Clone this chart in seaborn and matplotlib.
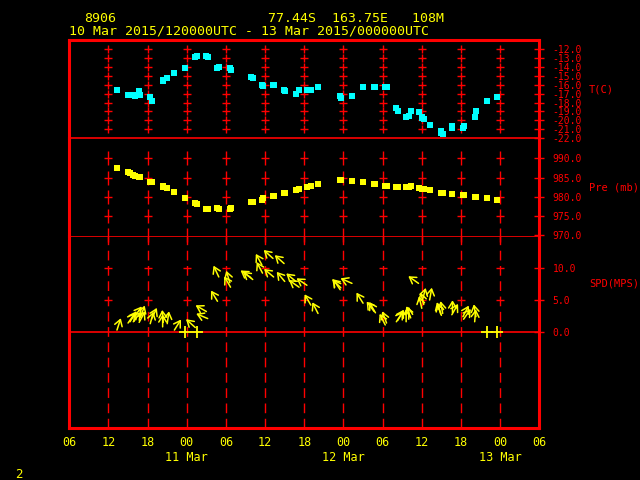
## GrADS-style station time series: T, pressure and wind arrows
import numpy as np
import matplotlib
matplotlib.use('Agg')
import matplotlib.pyplot as plt
import matplotlib.transforms as mtransforms
import seaborn as sns
from matplotlib.ticker import FormatStrFormatter

# observation times, hours after 10 Mar 2015 00 UTC
obs_hour = [13.3, 15.0, 15.3, 15.8, 16.0, 16.7, 16.9, 18.4, 18.6, 20.3, 20.4, 21.0,
            22.1, 23.7, 25.3, 25.5, 27.0, 27.2, 28.7, 28.9, 30.6, 30.7, 33.8, 34.1,
            35.5, 35.6, 37.2, 37.3, 38.9, 39.0, 40.7, 41.2, 42.4, 43.0, 44.1, 47.5,
            47.6, 49.3, 51.0, 52.7, 52.9, 54.4, 54.6, 56.1, 56.3, 57.6, 58.0, 58.3,
            59.5, 60.0, 60.1, 60.3, 61.2, 62.9, 63.0, 63.2, 64.6, 64.7, 66.3, 66.4,
            68.1, 68.3, 70.0, 71.5]
temp_c = [-16.6, -17.1, -17.1, -17.1, -17.2, -16.7, -17.1, -17.4, -17.8, -15.6, -15.5, -15.2,
          -14.7, -14.1, -12.8, -12.7, -12.7, -12.8, -14.1, -14.0, -14.1, -14.3, -15.1, -15.2,
          -16.0, -16.1, -16.0, -16.0, -16.6, -16.7, -17.0, -16.6, -16.6, -16.6, -16.2, -17.2,
          -17.5, -17.2, -16.2, -16.2, -16.2, -16.2, -16.2, -18.6, -18.9, -19.6, -19.5, -19.0,
          -19.1, -19.6, -19.7, -19.9, -20.5, -21.2, -21.4, -21.6, -20.9, -20.7, -20.9, -20.6,
          -19.6, -18.9, -17.8, -17.4]
pres_mb = [987.5, 986.4, 986.2, 985.7, 985.4, 985.1, 985.1, 983.8, 983.8, 982.8, 982.5, 982.3,
           981.2, 979.7, 978.4, 978.1, 976.8, 976.8, 977.1, 976.8, 976.8, 977.1, 978.6, 978.6,
           979.2, 979.7, 980.2, 980.2, 981.0, 981.0, 981.8, 982.0, 982.5, 982.8, 983.3, 984.4,
           984.4, 984.1, 983.8, 983.3, 983.3, 982.8, 982.8, 982.5, 982.5, 982.5, 982.6, 982.8,
           982.3, 982.1, 982.0, 982.0, 981.8, 981.0, 981.0, 981.0, 980.7, 980.7, 980.5, 980.5,
           979.9, 979.9, 979.7, 979.2]
nan = np.nan
# wind speed (m/s, nan = calm) and arrow direction (deg clockwise from up)
wind_spd = [0.3, 1.4, 1.6, 1.6, 2.4, 1.5, 2.3, 1.3, 2.0, 0.8, 1.5, 1.3,
            0.3, nan, 0.7, nan, 3.2, 2.1, 4.8, 8.6, 7.7, 7.0, 8.5, 8.2,
            10.5, 9.2, 11.5, 8.6, 10.7, 7.9, 7.9, 7.0, 7.3, 4.2, 2.9, 6.6,
            6.9, 7.6, 4.5, 3.2, 3.0, 1.1, 1.4, 1.6, 1.8, 1.6, 2.0, 2.2,
            7.6, 3.7, 5.0, 4.3, 5.0, 2.8, 2.6, 2.9, 2.7, 3.0, 2.4, 2.0,
            1.6, 2.4, nan, nan]
wind_dir = [18, 35, 32, 38, 35, 28, 20, 15, 25, 0, -5, 8,
            32, nan, -48, nan, -60, -67, -31, -25, -17, -30, -55, -51,
            -29, -28, -48, -50, -48, -40, -50, -55, -56, -30, -27, -34,
            -45, -66, -32, -37, -30, -27, -20, 34, 30, 0, 0, -20,
            -55, -13, 15, -15, 10, -18, -18, -10, 30, 0, 28, 35,
            5, -10, nan, nan]

time_ticks = list(range(6, 79, 6))
grid_hours = list(range(12, 73, 6))
temp_ticks = list(range(-12, -23, -1))
pres_ticks = [990, 985, 980, 975, 970]
spd_ticks = [10, 5, 0]
date_labels = ['11 Mar', '12 Mar', '13 Mar']
date_hours = [24, 48, 72]

RED = '#ff0000'
YEL = '#ffff00'
CYAN = '#00ffff'

plt.rcParams['font.family'] = 'DejaVu Sans Mono'
plt.rcParams['axes.unicode_minus'] = False

fig = plt.figure(figsize=(6.4, 4.8), dpi=100, facecolor='black')
W, H = 640, 480
x0, x1 = 69.3, 539.3

def panel(top, bottom):
    return fig.add_axes([x0 / W, 1 - bottom / H, (x1 - x0) / W, (bottom - top) / H])

ax_t = panel(40, 138)
ax_p = panel(138, 236)
ax_w = panel(236, 428)

for ax in (ax_t, ax_p, ax_w):
    ax.patch.set_visible(False)
    ax.set_xlim(6, 78)
    for sp in ax.spines.values():
        sp.set_color(RED)
    ax.spines['left'].set_linewidth(2.2)
    ax.spines['right'].set_linewidth(2.2)
    ax.yaxis.tick_right()
    ax.tick_params(axis='y', direction='inout', length=7, width=1, colors=RED,
                   labelsize=7, pad=6)
    ax.yaxis.set_major_formatter(FormatStrFormatter('%.1f'))
    ax.tick_params(axis='x', length=0)

ax_t.spines['top'].set_linewidth(2.2)
ax_t.spines['bottom'].set_linewidth(1.2)
ax_p.spines['top'].set_visible(False)
ax_p.spines['bottom'].set_linewidth(0.6)
ax_w.spines['top'].set_visible(False)
ax_w.spines['bottom'].set_linewidth(2.2)

ax_t.set_ylim(-22.0, -10.93)
ax_p.set_ylim(969.8, 995.3)
ax_w.set_ylim(-15, 15)

ax_t.set_yticks(temp_ticks)
ax_p.set_yticks(pres_ticks)
ax_w.set_yticks(spd_ticks)
ax_t.set_xticks([])
ax_p.set_xticks([])
ax_w.set_xticks(time_ticks)
ax_w.set_xticklabels(['%02d' % (h % 24) for h in time_ticks])
ax_w.tick_params(axis='x', labelcolor=YEL, labelsize=8.5, pad=6)

# grid crosses
gh, gt = np.meshgrid(grid_hours, temp_ticks[:-1])
ax_t.plot(gh.ravel(), gt.ravel(), '+', color=RED, ms=5.2, mew=1, zorder=1)
gh, gp = np.meshgrid(grid_hours, pres_ticks)
ax_p.plot(gh.ravel(), gp.ravel(), '|', color=RED, ms=9.5, mew=1, zorder=1, clip_on=False)
ax_p.plot(gh[:-1].ravel(), gp[:-1].ravel(), '_', color=RED, ms=5.2, mew=1, zorder=1)
for h in grid_hours:
    ax_w.axvline(h, color=RED, lw=1, dashes=(7, 4), zorder=1)
gh, gs = np.meshgrid(grid_hours, spd_ticks[:-1])
ax_w.plot(gh.ravel(), gs.ravel(), '_', color=RED, ms=5.2, mew=1, zorder=1)
ax_w.axhline(0, color=RED, lw=1.2, zorder=1)

# temperature and pressure
sns.scatterplot(x=obs_hour, y=temp_c, marker='s', s=14, color=CYAN, linewidth=0, ax=ax_t, zorder=3)
sns.scatterplot(x=obs_hour, y=pres_mb, marker='s', s=14, color=YEL, linewidth=0, ax=ax_p, zorder=3)

# wind arrows, tail at (time, speed)
spd = np.array(wind_spd)
hrs = np.array(obs_hour)
calm = np.isnan(spd)
sns.scatterplot(x=hrs[calm], y=np.zeros(calm.sum()), marker='+', s=75, color=YEL,
                linewidth=1.3, ax=ax_w, zorder=3)
arrow_len = 9
for h, s, d in zip(obs_hour, wind_spd, wind_dir):
    if np.isnan(s):
        continue
    r = np.deg2rad(d)
    ax_w.annotate('', xy=(h, s), xytext=(arrow_len * np.sin(r), arrow_len * np.cos(r)),
                  textcoords='offset points', zorder=4,
                  arrowprops=dict(arrowstyle='<-,head_length=0.45,head_width=0.28',
                                  color=YEL, lw=1.1, shrinkA=0, shrinkB=0))

for ax in (ax_t, ax_p, ax_w):
    ax.set_xlabel('')
    ax.set_ylabel('')

# right side titles
ax_t.text(1.106, 0.49, 'T(C)', transform=ax_t.transAxes, color=RED, fontsize=7.5, va='center')
ax_p.text(1.106, 0.5, 'Pre (mb)', transform=ax_p.transAxes, color=RED, fontsize=7.5, va='center')
ax_w.text(1.106, 0.755, 'SPD(MPS)', transform=ax_w.transAxes, color=RED, fontsize=7.5, va='center')

# day labels under the time axis
trans = mtransforms.blended_transform_factory(ax_w.transData, ax_w.transAxes)
for lab, h in zip(date_labels, date_hours):
    ax_w.text(h, -0.156, lab, transform=trans, color=YEL, fontsize=8.5, ha='center', va='center')

# header
fig.text(84.5 / W, 1 - 18 / H, '8906', color=YEL, fontsize=9.5, va='center')
fig.text(268 / W, 1 - 18 / H, '77.44S  163.75E   108M', color=YEL, fontsize=9.5, va='center')
fig.text(68.6 / W, 1 - 31.5 / H, '10 Mar 2015/120000UTC - 13 Mar 2015/000000UTC',
         color=YEL, fontsize=9.5, va='center')
fig.text(15.5 / W, 1 - 474 / H, '2', color=YEL, fontsize=9, va='center')

fig.savefig('out.png', dpi=100, facecolor='black')
